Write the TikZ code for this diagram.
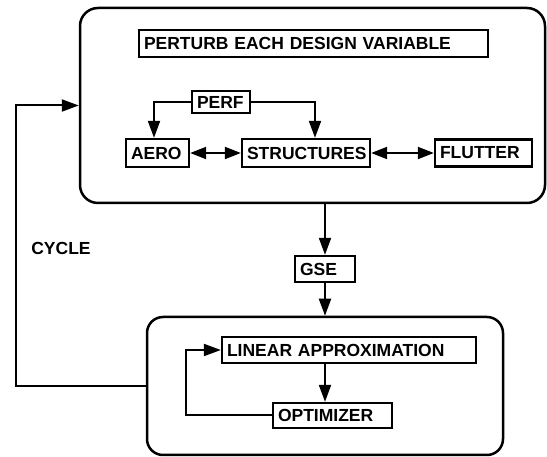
\documentclass[tikz,border=0pt]{standalone}
\usepackage{fontspec}
\setmainfont{Liberation Sans}
\usetikzlibrary{arrows.meta}
\begin{document}
\begin{tikzpicture}[x=1pt,y=-1pt,
  every node/.style={font=\fontsize{17.5}{20}\selectfont\bfseries},
  bigbox/.style={draw, line width=2.5pt, rounded corners=18pt, inner sep=0pt},
  smallbox/.style={draw, line width=2.3pt, inner xsep=5pt, inner ysep=0pt, align=left},
  conn/.style={line width=2pt},
  arr/.style={conn, -{Triangle[length=17pt,width=12pt]}},
  darr/.style={conn, {Triangle[length=16pt,width=12pt]}-{Triangle[length=16pt,width=12pt]}}
]
\useasboundingbox (0,0) rectangle (547,457);

% big rounded boxes
\node[bigbox, minimum width=465pt, minimum height=195pt] (top) at (312.5,105.5) {};
\node[bigbox, rounded corners=16pt, minimum width=356pt, minimum height=138pt] (bottom) at (325,386) {};

% inner boxes
\node[smallbox, text width=339pt, minimum height=27pt] (perturb) at (313.5,43.5) {PERTURB EACH DESIGN VARIABLE};
\node[smallbox, text width=48pt, minimum height=22pt] (perf) at (221,102) {PERF};
\node[smallbox, text width=53pt, minimum height=28pt] (aero) at (157.5,153) {AERO};
\node[smallbox, text width=118pt, minimum height=28pt] (structures) at (306,153) {STRUCTURES};
\node[smallbox, text width=87pt, minimum height=27pt] (flutter) at (483.5,153) {FLUTTER};
\node[smallbox, text width=50pt, minimum height=26pt] (gse) at (325,269) {GSE};
\node[smallbox, text width=244pt, minimum height=26pt] (linear) at (349,350) {LINEAR APPROXIMATION};
\node[smallbox, text width=109pt, minimum height=25pt] (optimizer) at (332.5,415.5) {OPTIMIZER};
\node (cycle) at (61,248) {CYCLE};

% connectors
\draw[arr] (perf.west) -| ([xshift=-3.5pt]aero.north);
\draw[arr] (perf.east) -| ([xshift=9pt]structures.north);
\draw[darr] (aero.east) -- (structures.west);
\draw[darr] (structures.east) -- (flutter.west);
\draw[arr] (gse.north |- top.south) -- (gse.north);
\draw[arr] (gse.south) -- (gse.south |- bottom.north);
\draw[arr] (linear.south -| gse.south) -- (optimizer.north -| gse.south);
\draw[arr] (optimizer.west) -- ++(-86,0) |- (linear.west);
\draw[arr] (bottom.west) -- ++(-130,0) |- (top.west);
\end{tikzpicture}
\end{document}
